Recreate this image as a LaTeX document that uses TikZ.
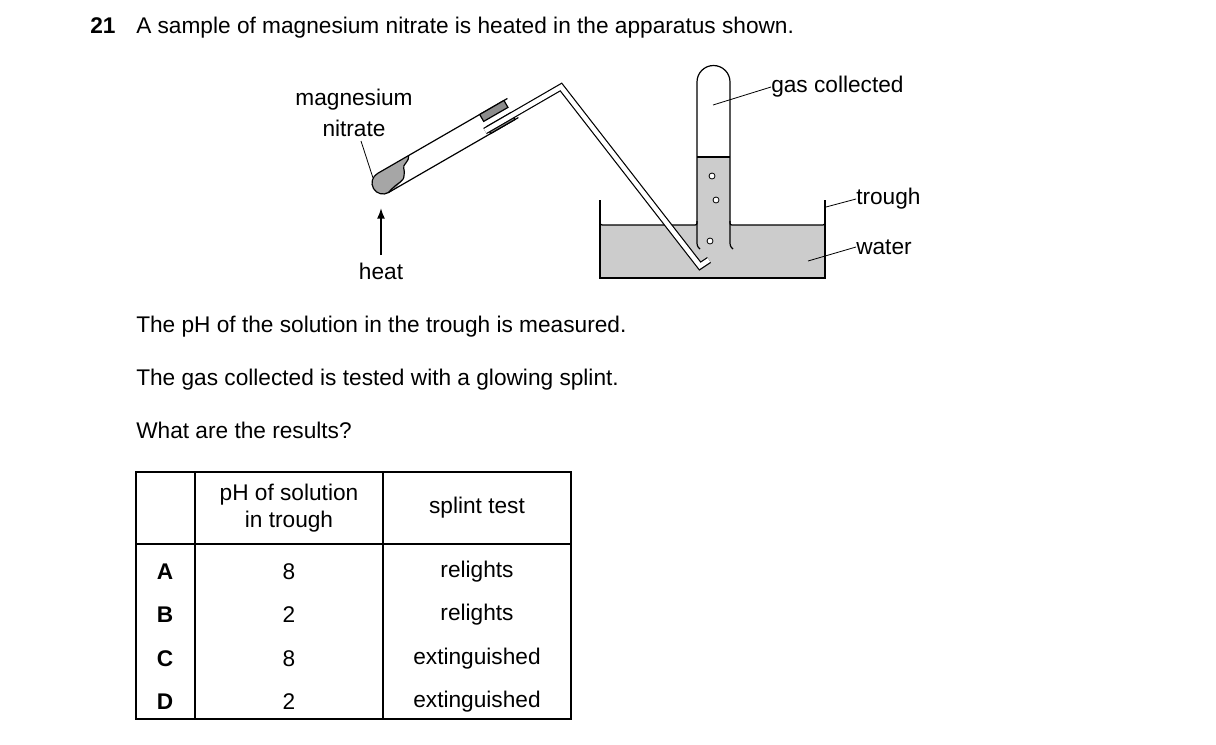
\documentclass[tikz,border=0pt]{standalone}
\usepackage{fontspec}
\setmainfont{Liberation Sans}
\usetikzlibrary{arrows.meta}
\begin{document}
\begin{tikzpicture}[x=0.75pt,y=-0.75pt,
  txt/.style={font=\fontsize{17}{20}\selectfont, inner sep=0pt},
  lin/.style={line width=0.9pt}]
\useasboundingbox (0,0) rectangle (1216,744);
% question text
\node[txt,anchor=base west,font=\fontsize{17}{20}\selectfont\bfseries] (q) at (90,33) {21};
\node[txt,anchor=base west] (qt) at (136,33) {A sample of magnesium nitrate is heated in the apparatus shown.};
\node[txt,anchor=base west] (l1) at (136,332) {The pH of the solution in the trough is measured.};
\node[txt,anchor=base west] (l2) at (136,385) {The gas collected is tested with a glowing splint.};
\node[txt,anchor=base west] (l3) at (136,438) {What are the results?};
% trough water
\fill[black!20] (600,225) -- (697,225) -- (697,157) -- (730,157) -- (730,225) -- (825,225) -- (825,278) -- (600,278) -- cycle;
\draw[lin] (600,200) -- (600,278) -- (825,278) -- (825,200);
\draw[line width=1.3pt] (600,278) -- (825,278);
\draw[lin] (600,220) .. controls (600,225) .. (605,225) -- (693,225) .. controls (697,225) .. (697,221);
\draw[lin] (825,220) .. controls (825,225) .. (820,225) -- (734,225) .. controls (730,225) .. (730,221);
% collecting tube
\fill[white] (697,157) -- (697,82) arc[start angle=180,end angle=360,radius=16.5] -- (730,157) -- cycle;
\draw[lin] (700,249) .. controls (697,246) .. (697,240) -- (697,82) arc[start angle=180,end angle=360,radius=16.5] -- (730,240) .. controls (730,246) .. (733,249);
\draw[lin] (697,157) -- (730,157);
\foreach \p in {(712,176),(716,200),(710,241)} \draw[fill=white,line width=0.6pt] \p circle (3);
% test tube
\begin{scope}[shift={(383,183)},rotate=30]
  \fill[black!35] (0,-11) arc[start angle=270,end angle=90,radius=11] -- (10,11) .. controls (16,6) and (18,10) .. (22,4) .. controls (26,0) and (24,-5) .. (30,-6) .. controls (34,-8) .. (36,-11) -- cycle;
  \draw[lin] (0,11) .. controls (14,6) and (18,10) .. (22,4) .. controls (26,0) and (24,-5) .. (30,-6) .. controls (34,-8) .. (36,-11);
  \draw[lin] (150,11) -- (0,11) arc[start angle=90,end angle=270,radius=11] -- (150,-11);
  \draw[lin,fill=black!45] (118,3) rectangle (146,11);
  \draw[lin,fill=black!45] (118,-3) rectangle (146,-11);
\end{scope}
% delivery tube
\draw[line width=5.2pt] (485,131) -- (561,87) -- (700,266) -- (709,260);
\draw[line width=3.4pt,white] (485,131) -- (561,87) -- (700,266) -- (709,260);
% labels
\node[txt] (mn1) at (354,100) {magnesium};
\node[txt] (mn2) at (354,128) {nitrate};
\coordinate (mnp) at (373,178);
\draw[line width=0.6pt] (361,141) -- (mnp);
\coordinate (ha) at (381,255);
\coordinate (hb) at (381,208);
\draw[line width=1.2pt,-{Latex[length=8pt,width=6pt]}] (ha) -- (hb);
\node[txt] (heat) at (381,271) {heat};
\node[txt,anchor=west] (gc) at (771,87) {gas collected};
\coordinate (gcp) at (713,105);
\draw[line width=0.6pt] (gcp) -- (gc.west);
\node[txt,anchor=west] (tr) at (856,199) {trough};
\coordinate (trp) at (826,207);
\draw[line width=0.6pt] (trp) -- (tr.west);
\node[txt,anchor=west] (wa) at (856,247) {water};
\coordinate (wap) at (808,261);
\draw[line width=0.6pt] (wap) -- (wa.west);
% table
\draw[line width=0.8pt] (136,472) rectangle (571,719);
\draw[line width=0.8pt] (136,544) -- (571,544);
\draw[line width=0.8pt] (195,472) -- (195,719);
\draw[line width=0.8pt] (383,472) -- (383,719);
\node[txt,align=center] (h1) at (289,508) {pH of solution\\in trough};
\node[txt] (h2) at (477,508) {splint test};
\foreach \l/\a/\b/\y in {A/8/relights/572,B/2/relights/615,C/8/extinguished/659,D/2/extinguished/702}{
  \node[txt,font=\fontsize{17}{20}\selectfont\bfseries] at (165,\y) {\l};
  \node[txt] at (289,\y) {\a};
  \node[txt] at (477,\y) {\b};
}
\end{tikzpicture}
\end{document}
